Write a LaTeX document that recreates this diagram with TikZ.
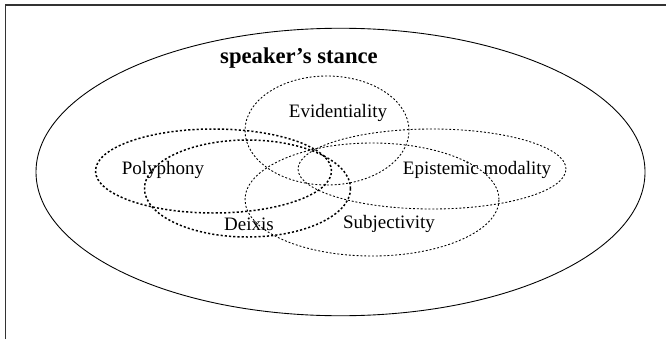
\documentclass[tikz,border=0pt]{standalone}
\usepackage{fontspec}
\setmainfont{Liberation Serif}
\usetikzlibrary{shapes.geometric}
\tikzset{
  area/.style={draw, ellipse, inner sep=0pt},
  dotthin/.style={area, line width=0.5pt, dash pattern=on 1.1pt off 1.1pt},
  dotthick/.style={area, line width=0.85pt, dash pattern=on 1.2pt off 1.2pt},
  lbl/.style={inner sep=0pt, font=\fontsize{10.8}{13}\selectfont}}
\begin{document}
\begin{tikzpicture}
\useasboundingbox (0,0) rectangle (13.32,6.78);
\draw[line width=1pt, black!80] (0.11,0) -- (0.11,6.686) -- (13.32,6.686);
\node[area, line width=0.5pt, minimum width=12.18cm, minimum height=5.75cm] (stance) at (6.81,3.34) {};
\node[inner sep=0pt, font=\fontsize{12.9}{15}\selectfont\bfseries] (stancel) at (5.98,5.61) {speaker’s stance};
% the five overlapping fields
\node[dotthin, minimum width=3.28cm, minimum height=2.18cm] (evid) at (6.54,4.17) {};
\node[dotthick, minimum width=4.72cm, minimum height=1.68cm] (poly) at (4.27,3.36) {};
\node[dotthick, minimum width=4.12cm, minimum height=1.94cm] (deix) at (4.95,3.01) {};
\node[dotthin, minimum width=5.36cm, minimum height=1.6cm] (epis) at (8.64,3.40) {};
\node[dotthin, minimum width=5.08cm, minimum height=2.26cm] (subj) at (7.44,2.79) {};
\node[lbl] (evidl) at (6.76,4.52) {Evidentiality};
\node[lbl] (polyl) at (3.26,3.38) {Polyphony};
\node[lbl] (episl) at (9.54,3.38) {Epistemic modality};
\node[lbl] (deixl) at (4.98,2.30) {Deixis};
\node[lbl] (subjl) at (7.78,2.30) {Subjectivity};
\end{tikzpicture}
\end{document}
